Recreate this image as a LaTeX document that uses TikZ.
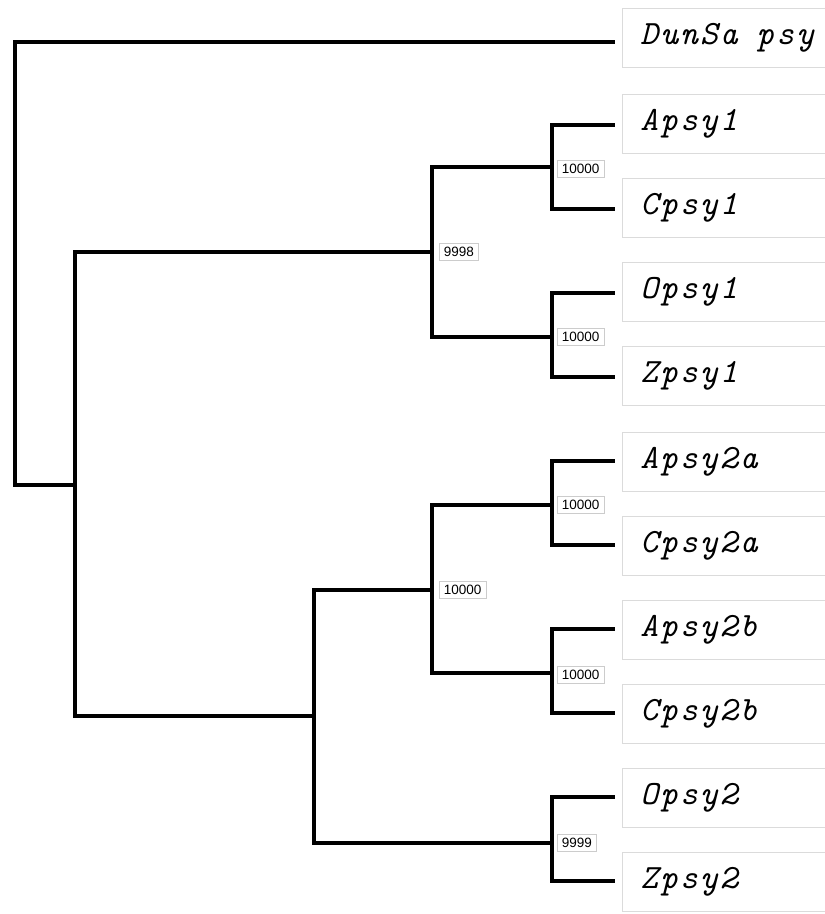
\documentclass[tikz,border=0pt]{standalone}
\usepackage{fontspec}
\setmonofont{Latin Modern Mono}[LetterSpace=6]
\newfontfamily\bsfont{Liberation Sans}
\begin{document}
\begin{tikzpicture}[x=1pt,y=-1pt,
  branch/.style={line width=3.2pt, line cap=rect},
  leafbox/.style={draw=black!14, line width=0.8pt, fill=white, anchor=west, minimum height=59pt,
    text width=200pt, inner xsep=18pt, align=left, font=\ttfamily\itshape\fontsize{34}{34}\selectfont},
  bsbox/.style={draw=black!20, line width=0.6pt, fill=white, anchor=west, inner xsep=4.5pt, inner ysep=3.5pt,
    font=\bsfont\fontsize{13.5}{13.5}\selectfont}
]
\useasboundingbox (0,0) rectangle (825,914);
% leaves
\foreach \n/\t/\y in {L0/{DunSa\hspace{0.55em}psy}/38, L1/Apsy1/124, L2/Cpsy1/208, L3/Opsy1/292, L4/Zpsy1/376,
  L5/Apsy2a/462, L6/Cpsy2a/546, L7/Apsy2b/630, L8/Cpsy2b/714, L9/Opsy2/798, L10/Zpsy2/882}
  \node[leafbox] (\n) at (622,\y) {\t};
% leaf tips
\foreach \n/\y in {t0/42, t1/125, t2/209, t3/293, t4/377, t5/461, t6/545, t7/629, t8/713, t9/797, t10/881}
  \coordinate (\n) at (613,\y);
% internal nodes
\coordinate (root) at (15,485);
\coordinate (n1) at (75,485);
\coordinate (n2) at (432,252);
\coordinate (n3) at (314,716);
\coordinate (n4) at (552,167);
\coordinate (n5) at (552,337);
\coordinate (n6) at (432,590);
\coordinate (n7) at (552,843);
\coordinate (n8) at (552,505);
\coordinate (n9) at (552,673);
% branches
\draw[branch] (t0) -| (root) -- (n1);
\draw[branch] (n2) -| (n1) |- (n3);
\draw[branch] (n4) -| (n2) |- (n5);
\draw[branch] (n6) -| (n3) |- (n7);
\draw[branch] (n8) -| (n6) |- (n9);
\draw[branch] (t1) -| (n4) |- (t2);
\draw[branch] (t3) -| (n5) |- (t4);
\draw[branch] (t5) -| (n8) |- (t6);
\draw[branch] (t7) -| (n9) |- (t8);
\draw[branch] (t9) -| (n7) |- (t10);
% bootstrap values
\node[bsbox] (b4) at (557,169) {10000};
\node[bsbox] (b2) at (439,252) {9998};
\node[bsbox] (b5) at (557,337) {10000};
\node[bsbox] (b8) at (557,505) {10000};
\node[bsbox] (b6) at (439,590) {10000};
\node[bsbox] (b9) at (557,675) {10000};
\node[bsbox] (b7) at (557,843) {9999};
\end{tikzpicture}
\end{document}
